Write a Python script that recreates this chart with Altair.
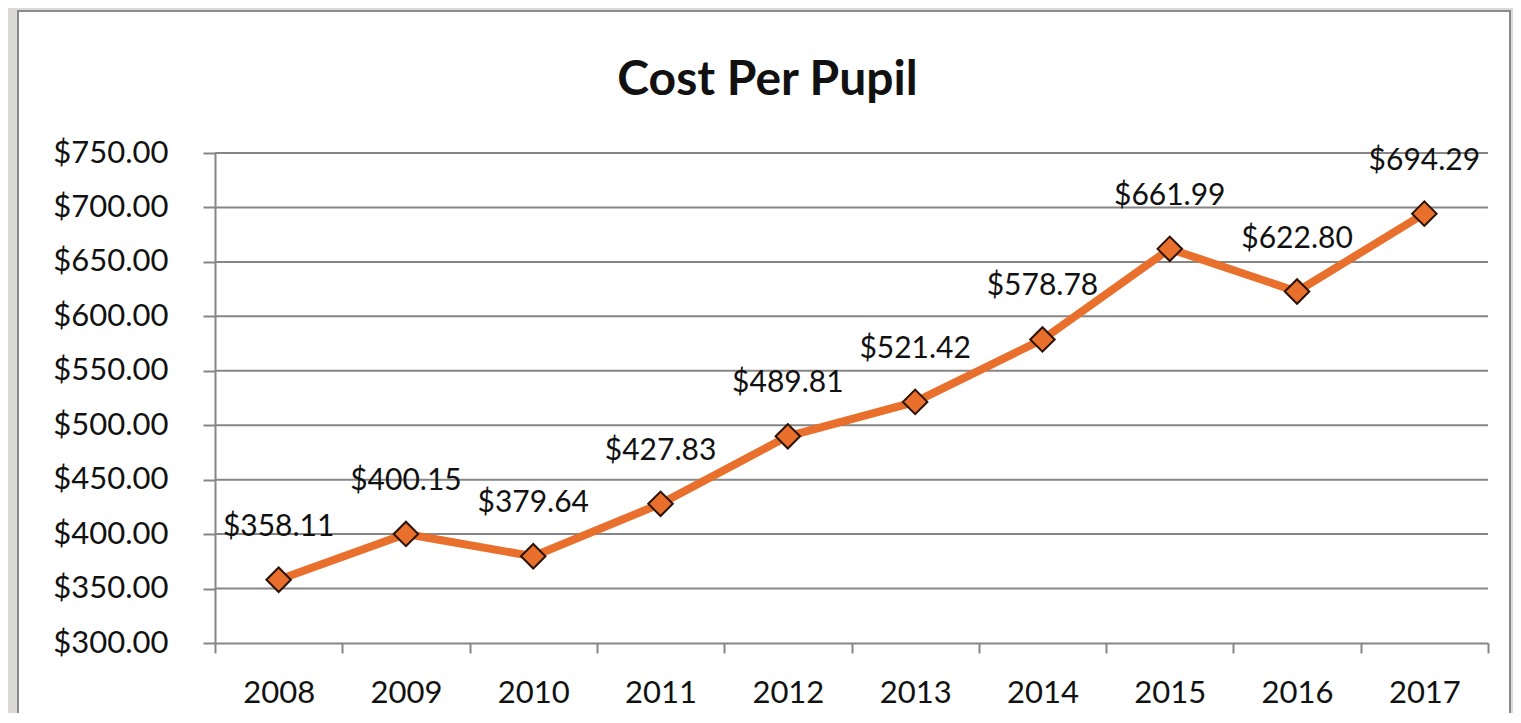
import altair as alt
import pandas as pd

years = ["2008", "2009", "2010", "2011", "2012", "2013", "2014", "2015", "2016", "2017"]
costs = [358.11, 400.15, 379.64, 427.83, 489.81, 521.42, 578.78, 661.99, 622.80, 694.29]
y_ticks = [300, 350, 400, 450, 500, 550, 600, 650, 700, 750]

df = pd.DataFrame({"year": years, "cost": costs})
grid_df = pd.DataFrame({"tick": y_ticks[1:]})

ORANGE = "#E8702C"
GRID = "#868686"
FONT = "Lato"

W, H = 1273, 490

x_enc = alt.X(
    "year:N",
    sort=years,
    scale=alt.Scale(paddingInner=0, paddingOuter=0),
    axis=alt.Axis(
        title=None, labelAngle=0, labelFont=FONT, labelFontSize=31, labelColor="#111111",
        tickBand="extent", tickSize=10, tickColor=GRID, tickWidth=2,
        domainColor=GRID, domainWidth=2, labelPadding=25, grid=False, zindex=1,
    ),
)
y_scale = alt.Scale(domain=[300, 750], nice=False, zero=False)
y_enc = alt.Y(
    "cost:Q",
    scale=y_scale,
    axis=alt.Axis(
        title=None, values=y_ticks, format="$,.2f", labelFont=FONT, labelFontSize=31,
        labelColor="#111111", tickSize=12, tickColor=GRID, tickWidth=2,
        domainColor=GRID, domainWidth=2, labelPadding=35, grid=False, zindex=1,
    ),
)

panel = alt.Chart(alt.Data(values=[{}])).mark_rect(
    fill="white", stroke="#8a8a8a", strokeWidth=2
).encode(
    x=alt.value(-197), x2=alt.value(1295), y=alt.value(-142), y2=alt.value(600)
)

grid = alt.Chart(grid_df).mark_rule(color=GRID, strokeWidth=2).encode(
    y=alt.Y("tick:Q", scale=y_scale)
)

base = alt.Chart(df).encode(x=x_enc, y=y_enc)

line = base.mark_line(color=ORANGE, strokeWidth=8)
points = base.mark_point(
    shape="diamond", size=600, filled=True, fill=ORANGE, stroke="#2a1206",
    strokeWidth=2, opacity=1
)
labels = base.mark_text(
    font=FONT, fontSize=30, color="#111111", baseline="middle", align="center", dy=-53
).encode(text=alt.Text("cost:Q", format="$,.2f"))

chart = alt.layer(panel, grid, line, points, labels).properties(
    width=W, height=H,
    title=alt.TitleParams(
        "Cost Per Pupil", anchor="middle", dx=-84, dy=133, baseline="alphabetic", offset=0,
        font=FONT, fontSize=48, fontWeight="bold", color="#111111",
    ),
    autosize=alt.AutoSizeParams(type="none"),
    padding={"left": 207, "top": 145, "right": 25, "bottom": 70},
).configure(background="#dbdad5").configure_view(stroke=None)

chart.save("out.html", embed_options={"renderer": "svg", "actions": False})
